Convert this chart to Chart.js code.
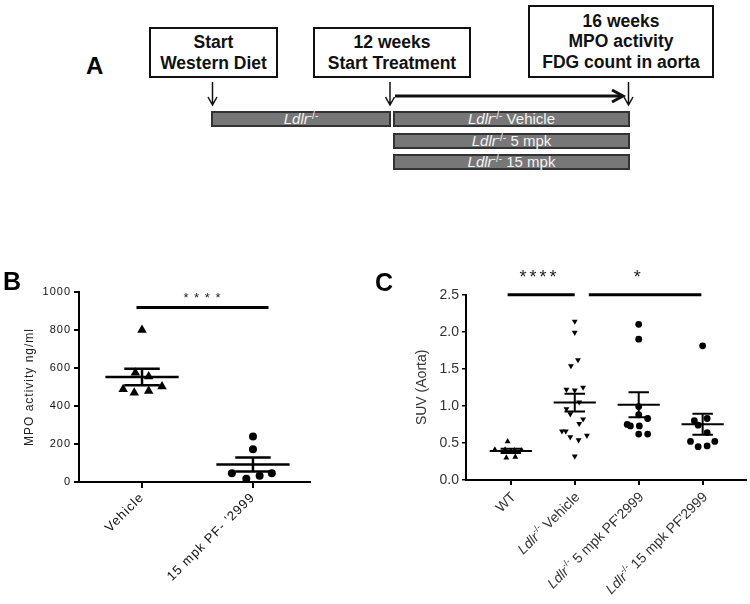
<!DOCTYPE html>
<html>
<head>
<meta charset="utf-8">
<script src="https://cdn.jsdelivr.net/npm/chart.js@4.4.1/dist/chart.umd.min.js"></script>
<style>
html, body { margin: 0; padding: 0; background: #fff; }
body { width: 750px; height: 604px; position: relative; overflow: hidden; font-family: 'Liberation Sans', Arial, sans-serif; }
.panel { position: absolute; font-weight: bold; line-height: 1; z-index: 2; }
.box { position: absolute; box-sizing: border-box; border: 2px solid #111; display: flex; align-items: center; justify-content: center; text-align: center; font-weight: bold; font-size: 17.5px; line-height: 20.6px; color: #111; }
.bar { position: absolute; box-sizing: border-box; background: #777; border: 2px solid #333; color: #f4f4f4; font-size: 15px; text-align: center; white-space: nowrap; }
.bar sup { font-size: 10px; vertical-align: 0; position: relative; top: -5px; }
canvas { position: absolute; }
#chartB { left: 0; top: 260px; }
#chartC { left: 340px; top: 260px; }
</style>
</head>
<body>

<div class="panel" style="left:86px;top:54px;font-size:24px;">A</div>
<div class="box" style="left:149px;top:27px;width:129px;height:51px;"><span>Start<br>Western Diet</span></div>
<div class="box" style="left:313px;top:27px;width:158px;height:51px;"><span>12 weeks<br>Start Treatment</span></div>
<div class="box" style="left:528px;top:5px;width:186px;height:73px;"><span>16 weeks<br>MPO activity<br>FDG count in aorta</span></div>

<svg width="750" height="180" style="position:absolute;left:0;top:0;">
  <g stroke="#111" stroke-width="1.5" fill="none">
    <path d="M212.5 82 V105 M208 97 L212.5 105 L217 97"/>
    <path d="M390 82 V105 M385.5 97 L390 105 L394.5 97"/>
    <path d="M628.5 82 V105 M624 97 L628.5 105 L633 97"/>
  </g>
  <g stroke="#111" stroke-width="3" fill="none">
    <path d="M395 96 H622"/>
    <path d="M612 90 L623 96 L612 102"/>
  </g>
</svg>

<div class="bar" style="left:211px;top:111px;width:180px;height:16px;line-height:12px;"><i>Ldlr</i><sup>-/-</sup></div>
<div class="bar" style="left:393px;top:111px;width:237px;height:16px;line-height:12px;"><i>Ldlr</i><sup>-/-</sup> Vehicle</div>
<div class="bar" style="left:393px;top:133px;width:237px;height:16px;line-height:12px;"><i>Ldlr</i><sup>-/-</sup> 5 mpk</div>
<div class="bar" style="left:393px;top:154px;width:237px;height:16px;line-height:12px;"><i>Ldlr</i><sup>-/-</sup> 15 mpk</div>

<div class="panel" style="left:3px;top:269px;font-size:25px;">B</div>
<div class="panel" style="left:375px;top:270px;font-size:25px;">C</div>

<canvas id="chartB" width="330" height="344"></canvas>
<canvas id="chartC" width="410" height="344"></canvas>

<script>
// panel B: MPO activity (ng/ml)
const mpoGroups = ['Vehicle', "15 mpk PF- '2999"];
const mpoVehicle = [800, 575, 555, 502, 488, 470, 479];
const mpoPF = [239, 173, 46, 17, 33, 46];
const mpoVehicleJitter = [0, -0.06, 0.06, 0.18, -0.17, -0.07, 0.06];
const mpoPFJitter = [0, 0, -0.19, -0.06, 0.06, 0.17];
const mpoTicks = [0, 200, 400, 600, 800, 1000];
const mpoSig = [{ from: -0.05, to: 1.14, y: 919, label: '* * * *', at: 0.545 }];

// panel C: SUV (Aorta)
const suvGroups = ['WT', 'Ldlr-/- Vehicle', "Ldlr-/- 5 mpk PF'2999", "Ldlr-/- 15 mpk PF'2999"];
const suvWT = [0.52, 0.41, 0.41, 0.40, 0.40, 0.31, 0.30];
const suvVehicle = [2.14, 1.99, 1.62, 1.54, 1.22, 1.21, 1.25, 1.05, 0.96, 0.89, 0.82, 0.76, 0.66, 0.66, 0.58, 0.60, 0.54, 0.32];
const suv5mpk = [2.10, 1.90, 0.99, 0.88, 0.83, 0.75, 0.73, 0.73, 0.62, 0.62];
const suv15mpk = [1.81, 0.80, 0.74, 0.83, 0.64, 0.52, 0.45, 0.46, 0.52];
const suvWTJitter = [-0.05, -0.25, -0.09, 0.06, 0.17, 0.07, -0.07];
const suvVehicleJitter = [0, 0, 0.05, -0.06, -0.13, 0, 0.13, 0.07, -0.13, -0.07, 0.13, 0.07, -0.2, -0.14, -0.07, 0.19, 0.06, 0];
const suv5mpkJitter = [0, 0, 0, 0, 0.14, -0.18, -0.13, 0.01, 0, 0.14];
const suv15mpkJitter = [0, -0.13, -0.07, 0.07, 0.07, -0.19, -0.07, 0.07, 0.19];
const suvTicks = [0, 0.5, 1.0, 1.5, 2.0, 2.5];
const suvSig = [
  { from: -0.05, to: 1.0, y: 2.5, label: '****', at: 0.45 },
  { from: 1.22, to: 2.98, y: 2.5, label: '*', at: 2.0 }
];

function mean(a) { return a.reduce((s, v) => s + v, 0) / a.length; }
function sem(a) {
  const m = mean(a);
  const sd = Math.sqrt(a.reduce((s, v) => s + (v - m) * (v - m), 0) / (a.length - 1));
  return sd / Math.sqrt(a.length);
}

function pointsDs(vals, jitter, idx, style, radius, rotation) {
  return {
    data: vals.map((v, k) => ({ x: idx + jitter[k], y: v })),
    pointStyle: style, pointRadius: radius, pointRotation: rotation || 0,
    backgroundColor: '#000', borderColor: '#000', borderWidth: 0, showLine: false
  };
}

function lineDs(pts, width) {
  return {
    data: pts, showLine: true, pointRadius: 0, borderColor: '#000',
    borderWidth: width, spanGaps: false, tension: 0, clip: false
  };
}

function summaryDs(groups, halfMean, halfCap, width) {
  const m = [], e = [];
  groups.forEach((vals, i) => {
    const mu = mean(vals), s = sem(vals);
    m.push({ x: i - halfMean, y: mu }, { x: i + halfMean, y: mu }, { x: i, y: null });
    e.push({ x: i - halfCap, y: mu + s }, { x: i + halfCap, y: mu + s }, { x: i, y: null },
           { x: i, y: mu + s }, { x: i, y: mu - s }, { x: i, y: null },
           { x: i - halfCap, y: mu - s }, { x: i + halfCap, y: mu - s }, { x: i, y: null });
  });
  return [lineDs(m, width), lineDs(e, width)];
}

function sigDs(sig, width) {
  const pts = [];
  sig.forEach(s => pts.push({ x: s.from, y: s.y }, { x: s.to, y: s.y }, { x: s.from, y: null }));
  return lineDs(pts, width);
}

function starsPlugin(sig, font, color, lift, spacing) {
  return {
    id: 'stars',
    afterDraw(chart) {
      const { ctx, scales: { x, y } } = chart;
      ctx.save();
      ctx.font = font;
      ctx.fillStyle = color;
      ctx.letterSpacing = spacing || '0px';
      ctx.textAlign = 'center';
      ctx.textBaseline = 'middle';
      sig.forEach(s => ctx.fillText(s.label, x.getPixelForValue(s.at), y.getPixelForValue(s.y) - lift));
      ctx.restore();
    }
  };
}

const spacingB = {
  id: 'spacingB',
  beforeLayout(c) { c.ctx.letterSpacing = '1px'; },
  beforeDraw(c) { c.ctx.letterSpacing = '1px'; }
};

Chart.defaults.font.family = "'Liberation Sans', Arial, sans-serif";

new Chart(document.getElementById('chartB'), {
  type: 'scatter',
  data: {
    datasets: [
      ...summaryDs([mpoVehicle, mpoPF], 0.33, 0.16, 2.5),
      sigDs(mpoSig, 3),
      pointsDs(mpoVehicle, mpoVehicleJitter, 0, 'triangle', 5.5),
      pointsDs(mpoPF, mpoPFJitter, 1, 'circle', 4)
    ]
  },
  options: {
    responsive: false,
    animation: false,
    layout: { padding: { left: 0, top: 32, right: 20, bottom: 0 } },
    plugins: { legend: { display: false }, tooltip: { enabled: false } },
    scales: {
      x: {
        type: 'linear', min: -0.568, max: 1.514,
        afterBuildTicks: s => { s.ticks = mpoGroups.map((g, i) => ({ value: i })); },
        afterFit: s => { s.height = 122; },
        ticks: { callback: v => mpoGroups[v], autoSkip: false, minRotation: 45, maxRotation: 45, color: '#111', font: { size: 13 }, padding: 2 },
        grid: { drawOnChartArea: false, tickLength: 6, color: '#000', lineWidth: 2 },
        border: { color: '#000', width: 2 }
      },
      y: {
        min: 0, max: 1000,
        afterBuildTicks: s => { s.ticks = mpoTicks.map(v => ({ value: v })); },
        afterFit: s => { s.width = 79; },
        ticks: { callback: v => String(v), color: '#111', font: { size: 11 }, padding: 3 },
        grid: { drawOnChartArea: false, tickLength: 5, color: '#000', lineWidth: 2 },
        border: { color: '#000', width: 2 },
        title: { display: true, text: 'MPO activity ng/ml', color: '#222', font: { size: 12 }, padding: { top: 22.8, bottom: 0 } }
      }
    }
  },
  plugins: [spacingB, starsPlugin(mpoSig, '13px "Liberation Sans", Arial', '#222', 9, '1px')]
});

const suvLabelPlugin = {
  id: 'suvLabels',
  afterDraw(chart) {
    const { ctx, scales: { x } } = chart;
    const base = '14px "Liberation Sans", Arial';
    ctx.save();
    ctx.fillStyle = '#333';
    ctx.textBaseline = 'middle';
    ctx.textAlign = 'left';
    suvGroups.forEach((name, i) => {
      let parts;
      if (name.startsWith('Ldlr-/-')) {
        parts = [
          { t: 'Ldlr', f: 'italic ' + base, dy: 0 },
          { t: '-/-', f: '9px "Liberation Sans", Arial', dy: -5 },
          { t: name.slice(7), f: base, dy: 0 }
        ];
      } else {
        parts = [{ t: name, f: base, dy: 0 }];
      }
      let total = 0;
      parts.forEach(p => { ctx.font = p.f; p.w = ctx.measureText(p.t).width; total += p.w; });
      ctx.save();
      ctx.translate(x.getPixelForValue(i) + 3, x.top + 15);
      ctx.rotate(-Math.PI / 4);
      let cx = -total;
      parts.forEach(p => { ctx.font = p.f; ctx.fillText(p.t, cx, p.dy); cx += p.w; });
      ctx.restore();
    });
    ctx.restore();
  }
};

new Chart(document.getElementById('chartC'), {
  type: 'scatter',
  data: {
    datasets: [
      ...summaryDs([suvWT, suvVehicle, suv5mpk, suv15mpk], 0.33, 0.16, 2),
      sigDs(suvSig, 3),
      pointsDs(suvWT, suvWTJitter, 0, 'triangle', 3.4),
      pointsDs(suvVehicle, suvVehicleJitter, 1, 'triangle', 3.4, 180),
      pointsDs(suv5mpk, suv5mpkJitter, 2, 'circle', 3.4),
      pointsDs(suv15mpk, suv15mpkJitter, 3, 'circle', 3.4)
    ]
  },
  options: {
    responsive: false,
    animation: false,
    layout: { padding: { left: 0, top: 34.7, right: 3, bottom: 0 } },
    plugins: { legend: { display: false }, tooltip: { enabled: false } },
    scales: {
      x: {
        type: 'linear', min: -0.701, max: 3.678,
        afterBuildTicks: s => { s.ticks = suvGroups.map((g, i) => ({ value: i })); },
        afterFit: s => { s.height = 124; },
        ticks: { display: false },
        grid: { drawOnChartArea: false, tickLength: 5, color: '#000', lineWidth: 2 },
        border: { color: '#000', width: 2 }
      },
      y: {
        min: 0, max: 2.5,
        afterBuildTicks: s => { s.ticks = suvTicks.map(v => ({ value: v })); },
        afterFit: s => { s.width = 126; },
        ticks: { callback: v => v.toFixed(1), color: '#333', font: { size: 14 }, padding: 3 },
        grid: { drawOnChartArea: false, tickLength: 4, color: '#000', lineWidth: 1.5 },
        border: { color: '#000', width: 2 },
        title: { display: true, text: 'SUV (Aorta)', color: '#333', font: { size: 14 }, padding: { top: 73.6, bottom: 0 } }
      }
    }
  },
  plugins: [suvLabelPlugin, starsPlugin(suvSig, '18px "Liberation Sans", Arial', '#222', 17, '3px')]
});
</script>
</body>
</html>
